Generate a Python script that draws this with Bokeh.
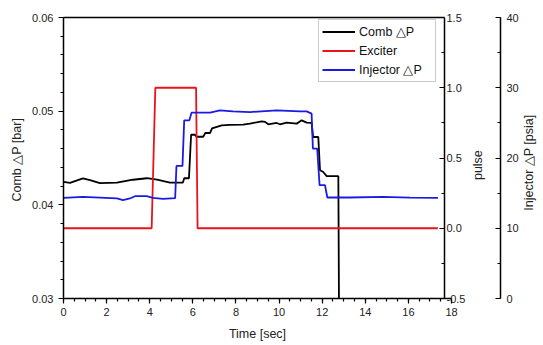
import math
from bokeh.plotting import figure
from bokeh.models import (Range1d, LinearAxis, SingleIntervalTicker, FixedTicker,
                          NumeralTickFormatter, CustomJSTickFormatter, Legend, LegendItem)
from bokeh.embed import file_html
from bokeh.resources import INLINE

# ---- data ----
time_comb = [0.0, 0.3, 0.9, 1.23, 1.69, 2.48, 3.22, 3.87, 4.34, 4.94, 5.54, 5.6, 5.82,
             5.92, 6.1, 6.17, 6.48, 6.58, 6.8, 6.89, 7.34, 7.72, 8.33, 8.65, 9.19, 9.35,
             9.5, 9.89, 10.04, 10.35, 10.82, 11.05, 11.28, 11.51, 11.58, 11.82, 11.9,
             12.05, 12.21, 12.75, 12.79]
comb_dp = [0.04245, 0.04234, 0.04282, 0.04263, 0.04231, 0.04238, 0.04268, 0.04284,
           0.04268, 0.04238, 0.04238, 0.04284, 0.04284, 0.04748, 0.04748, 0.04727,
           0.04727, 0.04767, 0.04767, 0.04817, 0.04849, 0.04854, 0.04856, 0.04867,
           0.04892, 0.04886, 0.0486, 0.04874, 0.0486, 0.04878, 0.04867, 0.04902,
           0.04878, 0.04876, 0.04724, 0.04724, 0.04369, 0.04351, 0.04306, 0.04306,
           0.025]

time_inj = [0.0, 0.9, 2.48, 2.76, 3.08, 3.32, 3.86, 4.15, 4.62, 5.18, 5.24, 5.52, 5.6,
            5.84, 5.94, 6.8, 7.26, 7.86, 8.65, 9.89, 10.97, 11.28, 11.51, 11.57, 11.77,
            11.88, 12.13, 12.24, 13.29, 14.82, 16.07, 17.37]
inj_dp = [14.32, 14.47, 14.24, 14.0, 14.24, 14.56, 14.56, 14.32, 14.18, 14.28, 18.87,
          18.87, 25.36, 25.36, 26.46, 26.46, 26.79, 26.64, 26.54, 26.79, 26.64, 26.64,
          26.32, 21.34, 21.34, 16.13, 16.13, 14.38, 14.38, 14.47, 14.35, 14.32]

time_exc = [0.0, 4.09, 4.26, 6.15, 6.22, 17.37]
exc_pulse = [0, 0, 1, 1, 0, 0]

series_names = ["Comb \u25b3P", "Exciter", "Injector \u25b3P"]
x_title = "Time [sec]"
y_title = "Comb  \u25b3P [bar]"
pulse_title = "pulse"
inj_title = "Injector \u25b3P [psia]"

FONT = "Liberation Sans"
TXT = "#222222"
PULSE_AXIS_AT = 17.69      # where the pulse axis crosses the time axis

p = figure(frame_width=388, frame_height=281, output_backend="svg",
           toolbar_location=None, x_range=Range1d(0, 18), y_range=Range1d(0.03, 0.06),
           min_border_left=63, min_border_top=17, min_border_bottom=44, min_border_right=91)
p.extra_y_ranges = {"pulse": Range1d(-0.5, 1.5), "inj": Range1d(0, 40)}
p.xgrid.visible = False
p.ygrid.visible = False
p.outline_line_color = None
p.background_fill_color = "white"
p.border_fill_color = "white"

r_comb = p.line(time_comb, comb_dp, line_color="black", line_width=1.8)
r_exc = p.line(time_exc, exc_pulse, line_color="#e8141c", line_width=1.8, y_range_name="pulse")
r_inj = p.line(time_inj, inj_dp, line_color="#1a1ae0", line_width=1.8, y_range_name="inj")


def style_axis(ax, tick_in, tick_out):
    ax.axis_line_color = "black"
    ax.axis_line_width = 1.5
    ax.major_tick_line_color = "black"
    ax.minor_tick_line_color = "black"
    ax.major_tick_line_width = 1.2
    ax.minor_tick_line_width = 1.2
    ax.major_tick_in = tick_in
    ax.major_tick_out = tick_out
    ax.minor_tick_in = int(tick_in * 0.6)
    ax.minor_tick_out = int(tick_out * 0.6)
    ax.major_label_text_font = FONT
    ax.major_label_text_font_size = "11px"
    ax.major_label_text_color = TXT
    ax.axis_label_text_font = FONT
    ax.axis_label_text_font_size = "12.5px"
    ax.axis_label_text_font_style = "normal"
    ax.axis_label_text_color = TXT


def bare(ax):
    ax.axis_line_color = None
    ax.major_tick_line_color = None
    ax.minor_tick_line_color = None
    ax.major_tick_in = ax.major_tick_out = 0
    ax.minor_tick_in = ax.minor_tick_out = 0
    return ax


xa = p.xaxis[0]
xa.ticker = SingleIntervalTicker(interval=2, num_minor_ticks=4)
xa.axis_label = x_title
style_axis(xa, 0, 5)
xa.major_label_standoff = 4
xa.axis_label_standoff = 8

ya = p.yaxis[0]
ya.ticker = SingleIntervalTicker(interval=0.01, num_minor_ticks=5)
ya.formatter = NumeralTickFormatter(format="0.00")
ya.axis_label = y_title
style_axis(ya, 0, 5)
ya.major_label_standoff = 5
ya.axis_label_standoff = 5

# top frame line, stopping at the pulse axis
top = LinearAxis(ticker=FixedTicker(ticks=[]), bounds=(0, PULSE_AXIS_AT))
style_axis(top, 0, 0)
p.add_layout(top, "above")

# pulse axis line + ticks (sits inside the frame, slightly left of its edge)
pa = LinearAxis(y_range_name="pulse", fixed_location=PULSE_AXIS_AT,
                ticker=SingleIntervalTicker(interval=0.5, num_minor_ticks=2),
                formatter=CustomJSTickFormatter(code="return ''"))
style_axis(pa, 5, 0)
p.add_layout(pa, "right")

# pulse tick labels, pulled back next to the pulse axis line
pl = bare(LinearAxis(y_range_name="pulse",
                     ticker=SingleIntervalTicker(interval=0.5, num_minor_ticks=0),
                     formatter=NumeralTickFormatter(format="0.0")))
pl.major_label_text_font = FONT
pl.major_label_text_font_size = "11px"
pl.major_label_text_color = TXT
pl.major_label_standoff = -5
p.add_layout(pl, "right")


def title_axis(rng, tick, text, standoff):
    # a tick-less axis whose single label is the (bottom-to-top) title
    ax = bare(LinearAxis(y_range_name=rng, ticker=FixedTicker(ticks=[tick]),
                         major_label_overrides={tick: text},
                         major_label_orientation=math.pi / 2,
                         major_label_standoff=standoff))
    ax.major_label_text_font = FONT
    ax.major_label_text_font_size = "12.5px"
    ax.major_label_text_color = TXT
    return ax


p.add_layout(title_axis("pulse", 0.343, pulse_title, 10), "right")

spacer = bare(LinearAxis(y_range_name="pulse", ticker=FixedTicker(ticks=[]),
                         axis_label=" ", axis_label_text_font_size="2px",
                         axis_label_standoff=0))
p.add_layout(spacer, "right")

ia = LinearAxis(y_range_name="inj",
                ticker=SingleIntervalTicker(interval=10, num_minor_ticks=2))
style_axis(ia, 5, 0)
ia.major_label_standoff = 6
p.add_layout(ia, "right")
p.add_layout(title_axis("inj", 12.5, inj_title, 7), "right")

legend = Legend(items=[LegendItem(label=series_names[0], renderers=[r_comb]),
                       LegendItem(label=series_names[1], renderers=[r_exc]),
                       LegendItem(label=series_names[2], renderers=[r_inj])],
                location=(255, 216))
legend.label_text_font = FONT
legend.label_text_font_size = "12.5px"
legend.label_text_color = "#111111"
legend.glyph_width = 33
legend.glyph_height = 17
legend.label_height = 17
legend.label_width = 73
legend.spacing = 2
legend.label_standoff = 4
legend.padding = 3
legend.margin = 0
legend.border_line_color = "#999999"
legend.border_line_width = 1
legend.background_fill_alpha = 1
p.add_layout(legend)

open("out.html", "w").write(file_html(p, INLINE))
